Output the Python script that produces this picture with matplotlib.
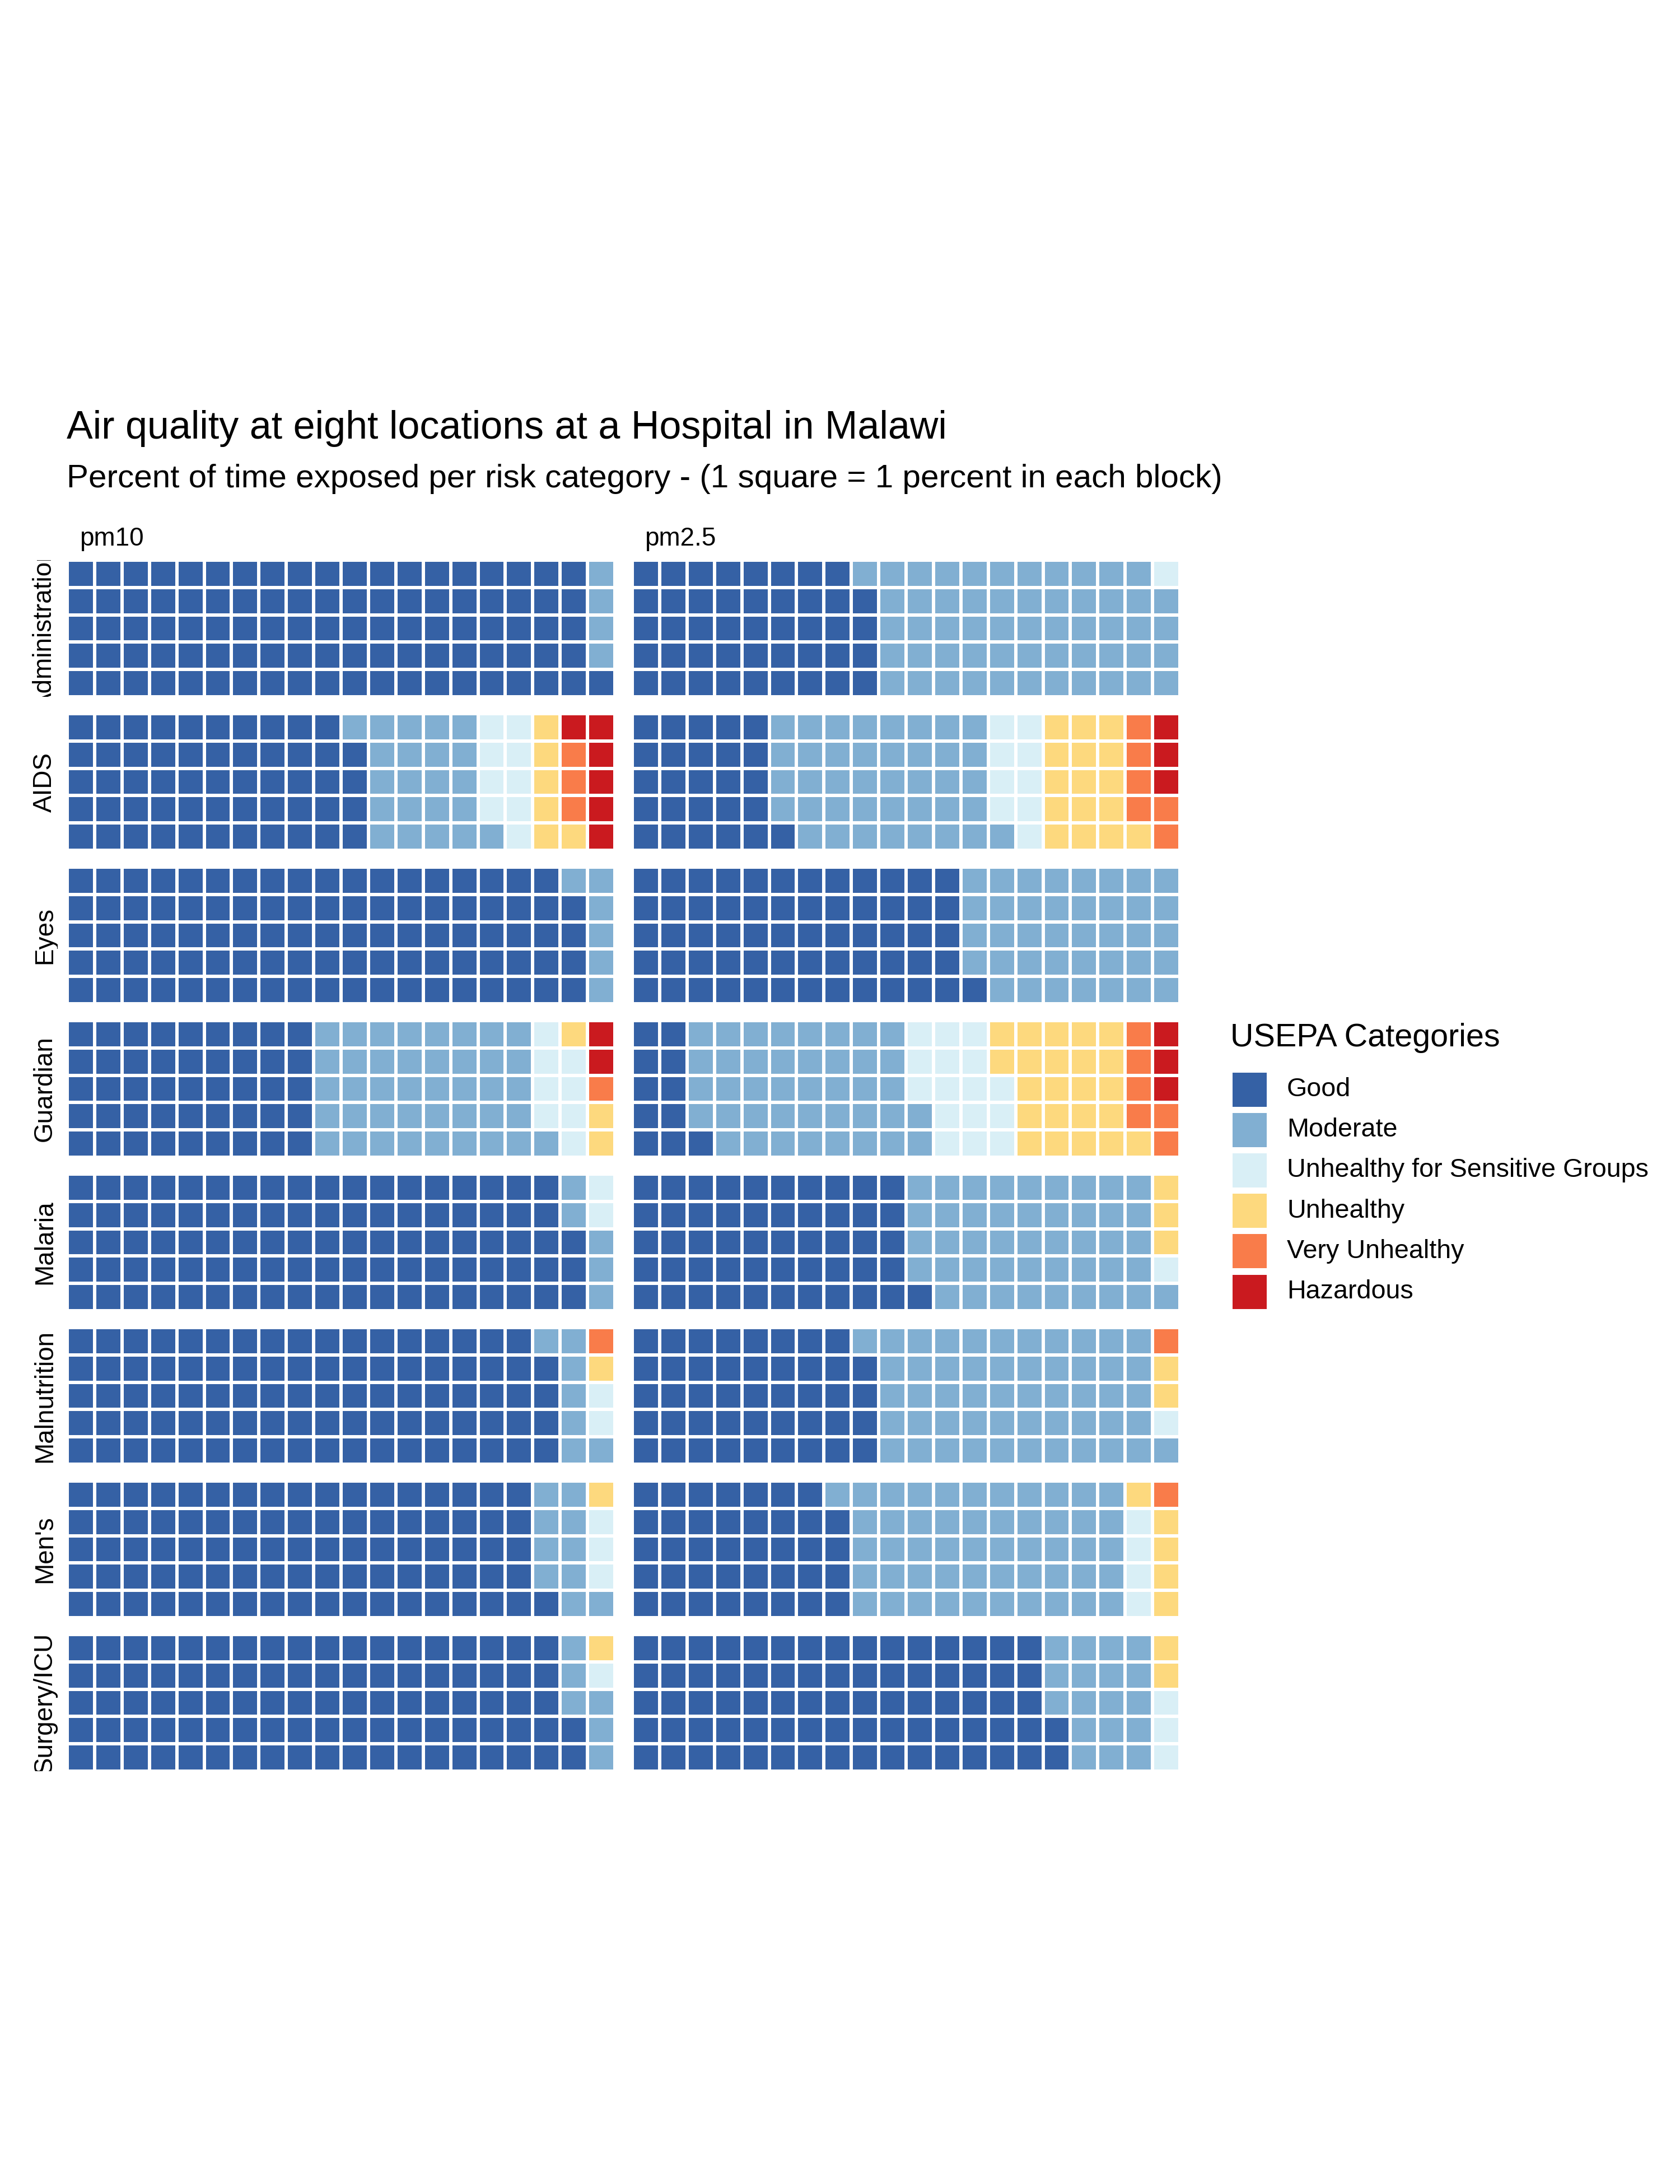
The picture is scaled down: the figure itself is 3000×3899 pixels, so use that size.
import numpy as np
import matplotlib
matplotlib.use('Agg')
import matplotlib.pyplot as plt
from matplotlib.colors import ListedColormap
from matplotlib.patches import Rectangle

plt.rcParams['font.family'] = ['Liberation Sans', 'DejaVu Sans']

# ── Data: percent of time per USEPA category (1 square = 1 percent) ──────────
locations = ['Administration', 'AIDS', 'Eyes', 'Guardian', 'Malaria',
             'Malnutrition', "Men's", 'Surgery/ICU']
pollutants = ['pm10', 'pm2.5']
categories = ['Good', 'Moderate', 'Unhealthy for Sensitive Groups',
              'Unhealthy', 'Very Unhealthy', 'Hazardous']
cat_colors = ['#3561A5', '#81AFD2', '#D9EFF6', '#FDD97E', '#F97C4A', '#CA1A1F']

pm10_good      = [96, 54, 94, 45, 93, 89, 86, 92]
pm10_moderate  = [4, 22, 6, 41, 5, 7, 10, 6]
pm10_usg       = [0, 9, 0, 8, 2, 2, 3, 1]
pm10_unhealthy = [0, 6, 0, 3, 0, 1, 1, 1]
pm10_very      = [0, 3, 0, 1, 0, 1, 0, 0]
pm10_hazardous = [0, 6, 0, 2, 0, 0, 0, 0]

pm25_good      = [44, 26, 61, 11, 51, 44, 39, 77]
pm25_moderate  = [55, 40, 39, 41, 45, 52, 51, 18]
pm25_usg       = [1, 9, 0, 16, 1, 1, 4, 3]
pm25_unhealthy = [0, 16, 0, 23, 3, 2, 5, 2]
pm25_very      = [0, 6, 0, 6, 0, 1, 1, 0]
pm25_hazardous = [0, 3, 0, 3, 0, 0, 0, 0]

counts = {
    'pm10': np.array([pm10_good, pm10_moderate, pm10_usg,
                      pm10_unhealthy, pm10_very, pm10_hazardous]).T,
    'pm2.5': np.array([pm25_good, pm25_moderate, pm25_usg,
                       pm25_unhealthy, pm25_very, pm25_hazardous]).T,
}

n_rows, n_cols = 5, 20


def waffle_grid(row_counts):
    # fill column by column, bottom to top
    seq = np.repeat(np.arange(len(row_counts)), row_counts)
    grid = np.zeros((n_rows, n_cols))
    for k, c in enumerate(seq):
        grid[k % n_rows, k // n_rows] = c
    return grid


# ── Layout (pixel positions on a 3000 x 3899 canvas) ─────────────────────────
W, H = 3000, 3899
fig = plt.figure(figsize=(W / 300, H / 300), dpi=300)
fig.patch.set_facecolor('white')

cmap = ListedColormap(cat_colors)
block_x = [120, 1129]
block_w, block_h = 978, 244
block_y0, block_step = 1000, 274

for i, loc in enumerate(locations):
    y0 = block_y0 + i * block_step
    for j, pol in enumerate(pollutants):
        ax = fig.add_axes([block_x[j] / W, 1 - (y0 + block_h) / H,
                           block_w / W, block_h / H])
        grid = waffle_grid(counts[pol][i])
        ax.pcolormesh(np.arange(n_cols + 1), np.arange(n_rows + 1), grid,
                      cmap=cmap, vmin=-0.5, vmax=len(categories) - 0.5,
                      edgecolors='white', linewidth=1.4)
        ax.set_xlim(0, n_cols)
        ax.set_ylim(0, n_rows)
        ax.axis('off')

    # row strip label, clipped to the strip like ggplot does
    sax = fig.add_axes([57 / W, 1 - (y0 + block_h) / H, 46 / W, block_h / H])
    sax.axis('off')
    sax.text(0.5, 0.5, loc, rotation=90, ha='center', va='center',
             fontsize=11, transform=sax.transAxes, clip_on=True)

# overlay in pixel coordinates for titles, strips and legend
ov = fig.add_axes([0, 0, 1, 1], zorder=-1)
ov.set_xlim(0, W)
ov.set_ylim(H, 0)
ov.axis('off')

for j, pol in enumerate(pollutants):
    ov.text(block_x[j] + 22, 962, pol, ha='left', va='center', fontsize=11)

ov.text(119, 765, 'Air quality at eight locations at a Hospital in Malawi',
        ha='left', va='center', fontsize=16.8)
ov.text(119, 855,
        'Percent of time exposed per risk category - (1 square = 1 percent in each block)',
        ha='left', va='center', fontsize=14.0)

# legend
ov.text(2197, 1853, 'USEPA Categories', ha='left', va='center', fontsize=13.8)
key = 61
for k, (lab, col) in enumerate(zip(categories, cat_colors)):
    cy = 1945 + 72.2 * k
    ov.add_patch(Rectangle((2201, cy - key / 2), key, key,
                           facecolor=col, edgecolor='none'))
    ov.text(2298, cy, lab, ha='left', va='center', fontsize=11.2)

fig.savefig('out.png', dpi=300, facecolor='white')
